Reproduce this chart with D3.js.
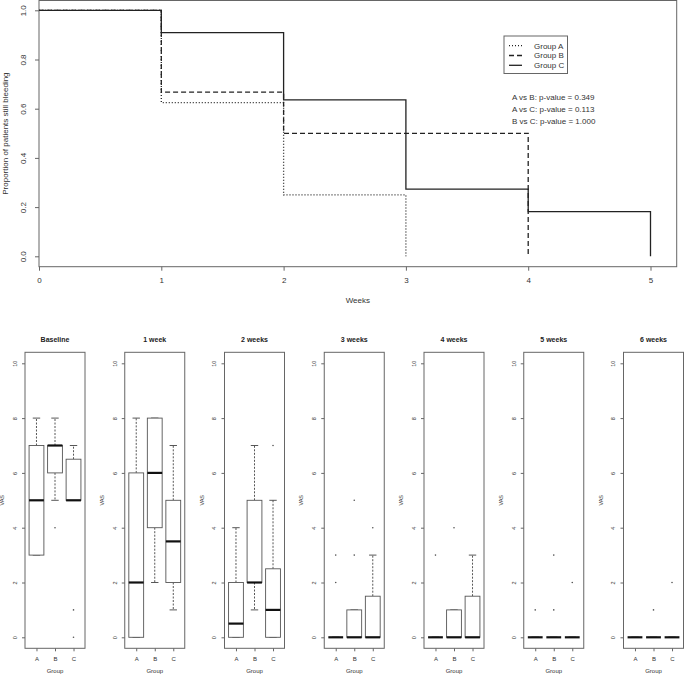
<!DOCTYPE html>
<html><head><meta charset="utf-8">
<script src="https://cdn.jsdelivr.net/npm/d3@7"></script>
<style>
html,body{margin:0;padding:0;background:#fff;}
svg{display:block;font-family:"Liberation Sans",Arial,sans-serif;}
</style></head>
<body><svg id="c" width="685" height="677"></svg>
<script>
// ---- Kaplan-Meier data ----
const kmTicksX = [0,1,2,3,4,5];
const kmTicksY = [0,0.2,0.4,0.6,0.8,1.0];
const survA = [1, 0.625, 0.25, 0];          // at weeks 0,1,2,3
const survB = [1, 0.667, 0.5, 0.5, 0];      // at weeks 0..4
const survC = [1, 0.909, 0.636, 0.273, 0.182, 0]; // at weeks 0..5
const groupNames = ["Group A","Group B","Group C"];
const pValues = ["A vs B: p-value = 0.349","A vs C: p-value = 0.113","B vs C: p-value = 1.000"];

// ---- Boxplot data ----
const panelTitles = ["Baseline","1 week","2 weeks","3 weeks","4 weeks","5 weeks","6 weeks"];
const groups = ["A","B","C"];
const vasTicks = [0,2,4,6,8,10];
// [lower whisker, Q1, median, Q3, upper whisker]
const boxBaseline = [[3,3,5,7,8],[5,6,7,7,8],[5,5,5,6.5,7]];
const box1w = [[0,0,2,6,8],[2,4,6,8,8],[1,2,3.5,5,7]];
const box2w = [[0,0,0.5,2,4],[1,2,2,5,7],[0,0,1,2.5,5]];
const box3w = [[0,0,0,0,0],[0,0,0,1,1],[0,0,0,1.5,3]];
const box4w = [[0,0,0,0,0],[0,0,0,1,1],[0,0,0,1.5,3]];
const box5w = [[0,0,0,0,0],[0,0,0,0,0],[0,0,0,0,0]];
const box6w = [[0,0,0,0,0],[0,0,0,0,0],[0,0,0,0,0]];
const outBaseline = [[],[4],[1,0]];
const out1w = [[],[],[]];
const out2w = [[],[],[7]];
const out3w = [[3,2],[5,3],[4]];
const out4w = [[3],[4],[]];
const out5w = [[1],[3,1],[2]];
const out6w = [[],[1],[2]];
const boxStats = [boxBaseline, box1w, box2w, box3w, box4w, box5w, box6w];
const outliers = [outBaseline, out1w, out2w, out3w, out4w, out5w, out6w];

const svg = d3.select("#c");
const axisCol = "#666", textCol = "#333", lineCol = "#222";

// ================= KM plot =================
const x = d3.scaleLinear().domain([0,5]).range([39, 650.5]);
const y = d3.scaleLinear().domain([0,1]).range([256.3, 10.3]);
const boxL = 39, boxR = 676.7, boxT = 0.5, boxB = 266.7;

svg.append("rect").attr("x",boxL).attr("y",boxT).attr("width",boxR-boxL).attr("height",boxB-boxT)
  .attr("fill","none").attr("stroke",axisCol).attr("stroke-width",1);

const gx = svg.append("g").attr("transform",`translate(0,${boxB})`)
  .call(d3.axisBottom(x).tickValues(kmTicksX).tickSize(4).tickPadding(7).tickFormat(d3.format("d")));
const gy = svg.append("g").attr("transform",`translate(${boxL},0)`)
  .call(d3.axisLeft(y).tickValues(kmTicksY).tickSize(4).tickPadding(0).tickFormat(d3.format(".1f")));
[gx,gy].forEach(g=>{
  g.select(".domain").remove();
  g.selectAll("line").attr("stroke",axisCol);
  g.selectAll("text").attr("fill",textCol).style("font-size","8px").style("font-family","Liberation Sans, Arial, sans-serif");
});
gy.selectAll(".tick text").attr("x",0).attr("dy",0).attr("text-anchor","middle")
  .attr("transform","translate(-16,0) rotate(-90)").attr("dy","0.35em");

svg.append("text").attr("x",(boxL+boxR)/2).attr("y",303).attr("text-anchor","middle")
  .attr("fill",textCol).style("font-size","8px").text("Weeks");
svg.append("text").attr("transform",`translate(8,${(boxT+boxB)/2}) rotate(-90)`).attr("text-anchor","middle")
  .attr("fill",textCol).style("font-size","8px").text("Proportion of patients still bleeding");

function stepPath(s){
  const pts = [[0,s[0]]];
  for(let i=1;i<s.length;i++){ pts.push([i,s[i-1]]); pts.push([i,s[i]]); }
  return d3.line().x(d=>x(d[0])).y(d=>y(d[1]))(pts);
}
const dashes = ["1,2","5,3",null];
[survA,survB,survC].forEach((s,i)=>{
  svg.append("path").attr("d",stepPath(s)).attr("fill","none").attr("stroke",lineCol)
    .attr("stroke-width",1.3).attr("stroke-dasharray",dashes[i]);
});

// legend
const lg = svg.append("g");
lg.append("rect").attr("x",504).attr("y",36).attr("width",63.5).attr("height",37.5)
  .attr("fill","#fff").attr("stroke",axisCol).attr("stroke-width",1);
groupNames.forEach((n,i)=>{
  const yy = 45.7 + i*9.8;
  lg.append("line").attr("x1",509).attr("x2",522).attr("y1",yy).attr("y2",yy)
    .attr("stroke",lineCol).attr("stroke-width",1.3).attr("stroke-dasharray",dashes[i]);
  lg.append("text").attr("x",534).attr("y",yy).attr("dy","0.35em").attr("fill",textCol)
    .style("font-size","8px").text(n);
});
pValues.forEach((t,i)=>{
  svg.append("text").attr("x",512).attr("y",97.3+i*12).attr("dy","0.35em").attr("fill",textCol)
    .style("font-size","8px").text(t);
});

// ================= Boxplots =================
const pTop = 352.3, pBot = 648.3, pW = 60;
const yv = d3.scaleLinear().domain([0,10]).range([637.3, 363.3]);
panelTitles.forEach((title,p)=>{
  const left = 25 + p*99.75;
  const xb = d3.scaleLinear().domain([0.38,3.62]).range([left,left+pW]);
  const g = svg.append("g");
  // axes
  const ay = g.append("g").attr("transform",`translate(${left},0)`)
    .call(d3.axisLeft(yv).tickValues(vasTicks).tickSize(3).tickPadding(0));
  const ax = g.append("g").attr("transform",`translate(0,${pBot})`)
    .call(d3.axisBottom(xb).tickValues([1,2,3]).tickSize(3).tickPadding(5).tickFormat((d,i)=>groups[i]));
  [ax,ay].forEach(a=>{
    a.select(".domain").remove();
    a.selectAll("line").attr("stroke",axisCol);
    a.selectAll("text").attr("fill",textCol).style("font-family","Liberation Sans, Arial, sans-serif");
  });
  ay.selectAll("text").style("font-size","5.5px").attr("x",0).attr("dy","0.35em").attr("text-anchor","middle")
    .attr("transform","translate(-10,0) rotate(-90)");
  ax.selectAll("text").style("font-size","6px");
  g.append("text").attr("x",left+pW/2).attr("y",342).attr("text-anchor","middle")
    .attr("fill","#222").style("font-size","7px").style("font-weight","bold").text(title);
  g.append("text").attr("x",left+pW/2).attr("y",673).attr("text-anchor","middle")
    .attr("fill",textCol).style("font-size","6px").text("Group");
  g.append("text").attr("transform",`translate(${left-21},${(pTop+pBot)/2}) rotate(-90)`)
    .attr("text-anchor","middle").attr("fill",textCol).style("font-size","5.5px").text("VAS");

  boxStats[p].forEach((st,gi)=>{
    const cx = xb(gi+1), bw = (xb(1.4)-xb(0.6)), hw = bw/2, cap = bw/4;
    const [lo,q1,med,q3,hi] = st;
    // whiskers
    g.append("line").attr("x1",cx).attr("x2",cx).attr("y1",yv(q3)).attr("y2",yv(hi))
      .attr("stroke","#444").attr("stroke-width",0.9).attr("stroke-dasharray","2,1.5");
    g.append("line").attr("x1",cx).attr("x2",cx).attr("y1",yv(q1)).attr("y2",yv(lo))
      .attr("stroke","#444").attr("stroke-width",0.9).attr("stroke-dasharray","2,1.5");
    [lo,hi].forEach(v=>{
      g.append("line").attr("x1",cx-cap).attr("x2",cx+cap).attr("y1",yv(v)).attr("y2",yv(v))
        .attr("stroke","#444").attr("stroke-width",0.9);
    });
    g.append("rect").attr("x",cx-hw).attr("y",yv(q3)).attr("width",bw).attr("height",Math.max(0,yv(q1)-yv(q3)))
      .attr("fill","#fff").attr("stroke","#555").attr("stroke-width",0.9);
    g.append("line").attr("x1",cx-hw).attr("x2",cx+hw).attr("y1",yv(med)).attr("y2",yv(med))
      .attr("stroke","#111").attr("stroke-width",2.2);
    outliers[p][gi].forEach(v=>{
      g.append("circle").attr("cx",cx).attr("cy",yv(v)).attr("r",0.8).attr("fill","#555");
    });
  });
  g.append("rect").attr("x",left).attr("y",pTop).attr("width",pW).attr("height",pBot-pTop)
    .attr("fill","none").attr("stroke",axisCol).attr("stroke-width",1);
});
</script></body></html>
